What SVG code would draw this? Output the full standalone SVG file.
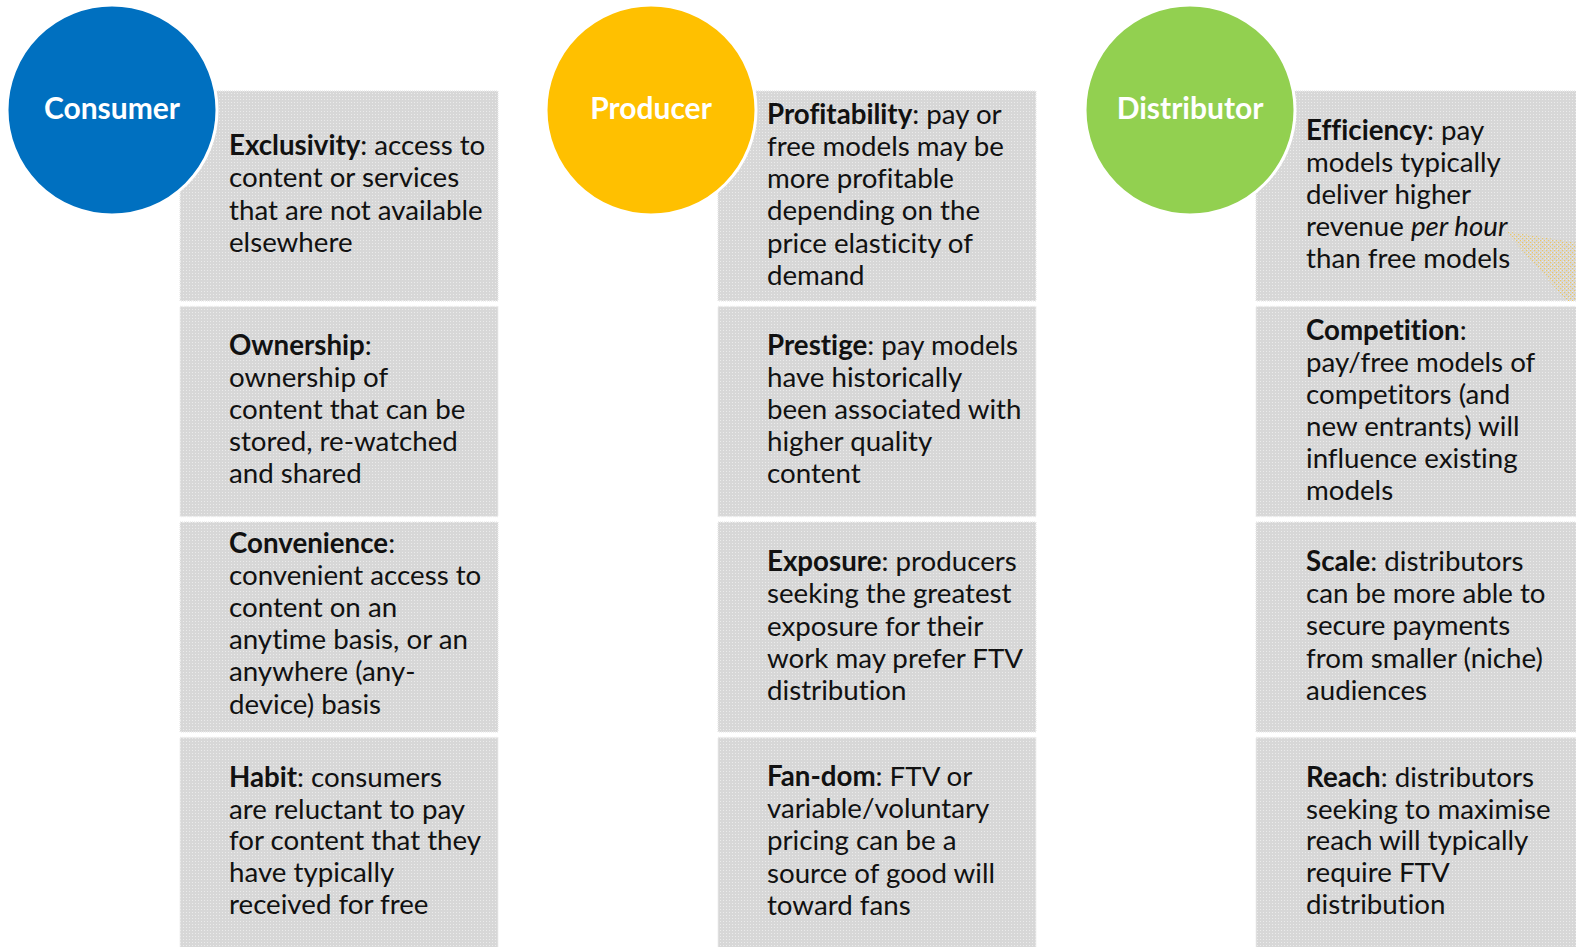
<svg xmlns="http://www.w3.org/2000/svg" width="1576" height="947" viewBox="0 0 1576 947">
<defs>
<pattern id="dots" width="3" height="3" patternUnits="userSpaceOnUse">
<rect width="3" height="3" fill="#d7d7d7"/>
<rect x="0" y="0" width="1" height="1" fill="#ebebeb"/>
</pattern>
<pattern id="ydots" width="4" height="4" patternUnits="userSpaceOnUse">
<rect x="0" y="0" width="1.2" height="1.2" fill="#f0c040"/>
<rect x="2" y="2" width="1.2" height="1.2" fill="#f0c040"/>
</pattern>
</defs>
<style>
.box{fill:url(#dots);stroke:#ececec;stroke-width:1.5;stroke-dasharray:1 1}
.t{font-family:Lato,"Liberation Sans",sans-serif;font-size:27.7px;fill:#111;font-variant-ligatures:none}
.b{font-weight:bold}
.c{stroke:#fff;stroke-width:3}
.ct{font-family:Lato,"Liberation Sans",sans-serif;font-size:30px;font-weight:bold;fill:#fff;text-anchor:middle}
</style>
<rect width="1576" height="947" fill="#fff"/>

<g id="consumer-col">
<g id="c-box1"><rect class="box" x="180" y="91" width="318" height="210"/>
<text class="t" x="229" y="155"><tspan class="b">Exclusivity</tspan>: access to<tspan x="229" dy="32.3">content or services</tspan><tspan x="229" dy="32.3">that are not available</tspan><tspan x="229" dy="32.3">elsewhere</tspan></text></g>
<g id="c-box2"><rect class="box" x="180" y="306.5" width="318" height="210"/>
<text class="t" x="229" y="355"><tspan class="b">Ownership</tspan>:<tspan x="229" dy="32.1">ownership of</tspan><tspan x="229" dy="32.1">content that can be</tspan><tspan x="229" dy="32.1">stored, re-watched</tspan><tspan x="229" dy="32.1">and shared</tspan></text></g>
<g id="c-box3"><rect class="box" x="180" y="522" width="318" height="210"/>
<text class="t" x="229" y="553"><tspan class="b">Convenience</tspan>:<tspan x="229" dy="32.1">convenient access to</tspan><tspan x="229" dy="32.1">content on an</tspan><tspan x="229" dy="32.1">anytime basis, or an</tspan><tspan x="229" dy="32.1">anywhere (any-</tspan><tspan x="229" dy="32.1">device) basis</tspan></text></g>
<g id="c-box4"><rect class="box" x="180" y="737.5" width="318" height="212"/>
<text class="t" x="229" y="787"><tspan class="b">Habit</tspan>: consumers<tspan x="229" dy="31.7">are reluctant to pay</tspan><tspan x="229" dy="31.7">for content that they</tspan><tspan x="229" dy="31.7">have typically</tspan><tspan x="229" dy="31.7">received for free</tspan></text></g>
</g>

<g id="producer-col">
<g id="p-box1"><rect class="box" x="718" y="91" width="318" height="210"/>
<text class="t" x="767" y="123.5"><tspan class="b">Profitability</tspan>: pay or<tspan x="767" dy="32.3">free models may be</tspan><tspan x="767" dy="32.3">more profitable</tspan><tspan x="767" dy="32.3">depending on the</tspan><tspan x="767" dy="32.3">price elasticity of</tspan><tspan x="767" dy="32.3">demand</tspan></text></g>
<g id="p-box2"><rect class="box" x="718" y="306.5" width="318" height="210"/>
<text class="t" x="767" y="355"><tspan class="b">Prestige</tspan>: pay models<tspan x="767" dy="32.1">have historically</tspan><tspan x="767" dy="32.1">been associated with</tspan><tspan x="767" dy="32.1">higher quality</tspan><tspan x="767" dy="32.1">content</tspan></text></g>
<g id="p-box3"><rect class="box" x="718" y="522" width="318" height="210"/>
<text class="t" x="767" y="571"><tspan class="b">Exposure</tspan>: producers<tspan x="767" dy="32.3">seeking the greatest</tspan><tspan x="767" dy="32.3">exposure for their</tspan><tspan x="767" dy="32.3">work may prefer FTV</tspan><tspan x="767" dy="32.3">distribution</tspan></text></g>
<g id="p-box4"><rect class="box" x="718" y="737.5" width="318" height="212"/>
<text class="t" x="767" y="786"><tspan class="b">Fan-dom</tspan>: FTV or<tspan x="767" dy="32.2">variable/voluntary</tspan><tspan x="767" dy="32.2">pricing can be a</tspan><tspan x="767" dy="32.2">source of good will</tspan><tspan x="767" dy="32.2">toward fans</tspan></text></g>
</g>

<g id="distributor-col">
<g id="d-box1"><rect class="box" x="1256" y="91" width="322" height="210"/>
<polygon points="1505,231 1578,243 1578,301 1567,301" fill="url(#ydots)" opacity="0.75"/>
<text class="t" x="1306" y="139.5"><tspan class="b">Efficiency</tspan>: pay<tspan x="1306" dy="32.2">models typically</tspan><tspan x="1306" dy="32.2">deliver higher</tspan><tspan x="1306" dy="32.2">revenue <tspan font-style="italic">per hour</tspan></tspan><tspan x="1306" dy="32.2">than free models</tspan></text></g>
<g id="d-box2"><rect class="box" x="1256" y="306.5" width="322" height="210"/>
<text class="t" x="1306" y="340"><tspan class="b">Competition</tspan>:<tspan x="1306" dy="32">pay/free models of</tspan><tspan x="1306" dy="32">competitors (and</tspan><tspan x="1306" dy="32">new entrants) will</tspan><tspan x="1306" dy="32">influence existing</tspan><tspan x="1306" dy="32">models</tspan></text></g>
<g id="d-box3"><rect class="box" x="1256" y="522" width="322" height="210"/>
<text class="t" x="1306" y="571"><tspan class="b">Scale</tspan>: distributors<tspan x="1306" dy="32.2">can be more able to</tspan><tspan x="1306" dy="32.2">secure payments</tspan><tspan x="1306" dy="32.2">from smaller (niche)</tspan><tspan x="1306" dy="32.2">audiences</tspan></text></g>
<g id="d-box4"><rect class="box" x="1256" y="737.5" width="322" height="212"/>
<text class="t" x="1306" y="787"><tspan class="b">Reach</tspan>: distributors<tspan x="1306" dy="31.7">seeking to maximise</tspan><tspan x="1306" dy="31.7">reach will typically</tspan><tspan x="1306" dy="31.7">require FTV</tspan><tspan x="1306" dy="31.7">distribution</tspan></text></g>
</g>

<g id="consumer"><circle class="c" cx="112" cy="110" r="105" fill="#0070c0"/><text class="ct" x="112" y="119">Consumer</text></g>
<g id="producer"><circle class="c" cx="651" cy="110" r="105" fill="#ffc000"/><text class="ct" x="651" y="119">Producer</text></g>
<g id="distributor"><circle class="c" cx="1190" cy="110" r="105" fill="#92d050"/><text class="ct" x="1190" y="119">Distributor</text></g>
<g id="connectors"/>
</svg>
